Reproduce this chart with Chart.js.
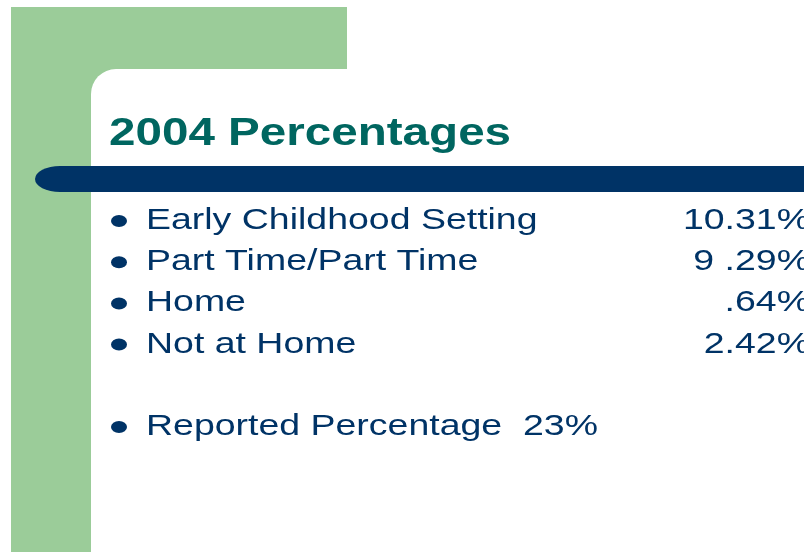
<!DOCTYPE html>
<html>
<head>
<meta charset="utf-8">
<script src="https://cdn.jsdelivr.net/npm/chart.js@4.4.1/dist/chart.umd.min.js"></script>
<style>
  html, body { margin: 0; padding: 0; background: #fff; }
  #wrap { width: 804px; height: 552px; overflow: hidden; }
</style>
</head>
<body>
<div id="wrap"><canvas id="slide" width="804" height="552"></canvas></div>
<script>
// donnees de la diapo
const titleText = '2004 Percentages';
const categories = ['Early Childhood Setting', 'Part Time/Part Time', 'Home', 'Not at Home'];
const values = [10.31, 9.29, 0.64, 2.42];
const valueLabels = ['10.31%', '9 .29%', '.64%', '2.42%'];
const reportedLabel = 'Reported Percentage  23%';
const reportedValue = 23;

// lignes de l'axe y : 4 items, une ligne vide, puis le total
const rowLabels = [...categories, '', reportedLabel];
const rowValues = [...values, null, reportedValue];

const green = '#9bcc99';
const navy = '#003366';
const teal = '#006660';
const stretch = 1.27; // la diapo est etiree en largeur

// texte etire horizontalement
function stretchedText(ctx, txt, x, y, font, color, align, sx) {
  ctx.save();
  ctx.font = font;
  ctx.fillStyle = color;
  ctx.textAlign = align;
  ctx.textBaseline = 'alphabetic';
  ctx.translate(x, y);
  ctx.scale(sx, 1);
  ctx.fillText(txt, 0, 0);
  ctx.restore();
}

const slidePlugin = {
  id: 'slide',
  beforeDraw(chart) {
    const ctx = chart.ctx;
    ctx.save();
    ctx.fillStyle = '#fff';
    ctx.fillRect(0, 0, chart.width, chart.height);
    // cadre vert
    ctx.fillStyle = green;
    ctx.fillRect(11, 7, 336, 560);
    // zone blanche au coin arrondi
    ctx.fillStyle = '#fff';
    ctx.beginPath();
    ctx.roundRect(91, 69, 760, 520, [25, 0, 0, 0]);
    ctx.fill();
    // barre bleue sous le titre
    ctx.fillStyle = navy;
    ctx.beginPath();
    ctx.ellipse(60, 179, 25, 13, 0, 0, Math.PI * 2);
    ctx.fill();
    ctx.fillRect(60, 166, 760, 26);
    ctx.restore();

    stretchedText(ctx, titleText, 109, 145, 'bold 39px "Liberation Sans", Arial, sans-serif', teal, 'left', 1.22);
  },
  afterDatasetsDraw(chart) {
    const ctx = chart.ctx;
    const meta = chart.getDatasetMeta(0);
    const font = '29.5px "Liberation Sans", Arial, sans-serif';
    rowLabels.forEach((lab, i) => {
      if (!lab) return;
      const y = meta.data[i].y; // position donnee par l'echelle
      ctx.save();
      ctx.fillStyle = navy;
      ctx.beginPath();
      ctx.ellipse(119, y + 2.5, 8, 6, 0, 0, Math.PI * 2);
      ctx.fill();
      ctx.restore();
      stretchedText(ctx, lab, 146, y + 10.5, font, navy, 'left', stretch);
      if (i < valueLabels.length) {
        stretchedText(ctx, valueLabels[i], 810, y + 10.5, font, navy, 'right', stretch);
      }
    });
  }
};

new Chart(document.getElementById('slide'), {
  type: 'bar',
  data: {
    labels: rowLabels,
    datasets: [{
      data: rowValues,
      backgroundColor: 'rgba(0,0,0,0)',
      borderWidth: 0
    }]
  },
  options: {
    indexAxis: 'y',
    responsive: false,
    animation: false,
    layout: { padding: { top: 198, bottom: 107, left: 100, right: 0 } },
    plugins: { legend: { display: false }, tooltip: { enabled: false }, title: { display: false } },
    scales: {
      x: { display: false, min: 0, max: 100 },
      y: { display: false, offset: true }
    }
  },
  plugins: [slidePlugin]
});
</script>
</body>
</html>
